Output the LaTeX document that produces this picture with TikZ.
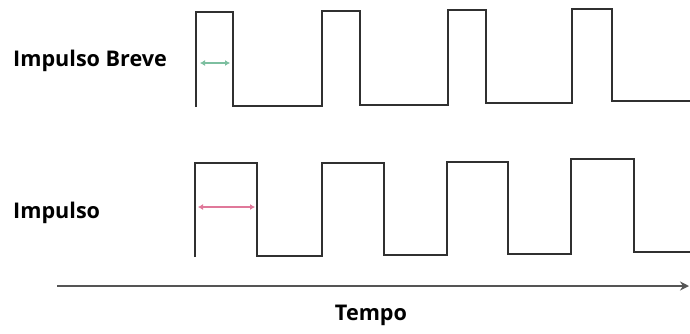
\documentclass[tikz,border=0pt]{standalone}
\usepackage{fontspec}
\setmainfont{Open Sans}
\usepackage{tikz}
\usepackage{xcolor}
\usetikzlibrary{arrows.meta}

\definecolor{wavegray}{HTML}{303030}
\definecolor{axisgray}{HTML}{555555}
\definecolor{brevegreen}{HTML}{7DBFA0}
\definecolor{impulsopink}{HTML}{E0789A}

\begin{document}
\begin{tikzpicture}[
    x=1pt, y=-1pt, line join=miter,
    wave/.style={draw=wavegray, line width=2.8pt},
    lbl/.style={font=\fontsize{21.6}{24}\selectfont\bfseries, inner sep=0pt},
    span/.style={line width=1.4pt, {Latex[length=5pt,width=6pt]}-{Latex[length=5pt,width=6pt]}}
  ]
    \useasboundingbox (0,0) rectangle (690,333);
    % labels
    \node[lbl, anchor=west] (breve) at (13,61) {Impulso Breve};
    \node[lbl, anchor=west] (impulso) at (13,213) {Impulso};
    \node[lbl] (tempo) at (371,315) {Tempo};
    % waveforms
    \draw[wave] (196,107) -- (196,12) -- (233,12) -- (233,106) -- (322,106) -- (322,11)
      -- (360,11) -- (360,105) -- (448,105) -- (448,10) -- (486,10) -- (486,103)
      -- (572,103) -- (572,9) -- (612,9) -- (612,101) -- (690,101);
    \draw[wave] (195,257) -- (195,163) -- (257,163) -- (257,256) -- (322,256) -- (322,163)
      -- (384,163) -- (384,255) -- (447,255) -- (447,162) -- (508,162) -- (508,254)
      -- (571,254) -- (571,159) -- (634,159) -- (634,252) -- (690,252);
    % pulse widths
    \coordinate (b1) at (200,63);
    \coordinate (b2) at (230,63);
    \coordinate (p1) at (198,207);
    \coordinate (p2) at (255,207);
    \draw[span, brevegreen] (b1) -- (b2);
    \draw[span, impulsopink] (p1) -- (p2);
    % time axis
    \coordinate (t0) at (57,286);
    \coordinate (t1) at (689,286);
    \draw[axisgray, line width=2.6pt, -{Stealth[length=9pt,width=9pt]}] (t0) -- (t1);
\end{tikzpicture}
\end{document}
